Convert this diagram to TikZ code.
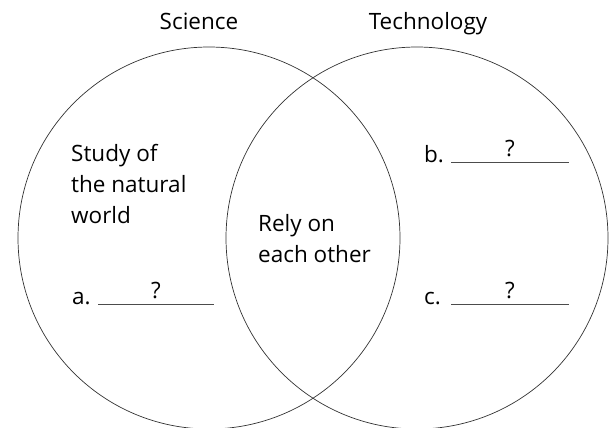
\documentclass[tikz,border=0pt]{standalone}
\usepackage{fontspec}
\setmainfont{Open Sans}

\begin{document}
\begin{tikzpicture}[x=1pt,y=-1pt,
  ring/.style={draw=black!80,line width=0.7pt},
  head/.style={anchor=base,inner sep=0pt,font=\fontsize{22.5}{27}\selectfont},
  words/.style={anchor=base west,inner sep=0pt,align=left,font=\fontsize{22.5}{31}\selectfont},
  blank/.style={draw=black!70,line width=0.7pt},
  qmark/.style={midway,anchor=base,inner sep=0pt,yshift=6pt,font=\fontsize{22.5}{27}\selectfont}]
\useasboundingbox (0,0) rectangle (613,428);
% the two sets
\draw[ring] (209,238) circle (191pt);
\draw[ring] (417,238) circle (191pt);
\node[head] (sci) at (199,30) {Science};
\node[head] (tech) at (428,30) {Technology};
% left part (base is the last line)
\node[words] (study) at (71,223) {Study of\\the natural\\world};
\node[words] (la) at (72,304) {a.};
\coordinate (a1) at (98,304);
\coordinate (a2) at (214,304);
\draw[blank] (a1) -- node[qmark] {?} (a2);
% overlap
\node[words] (rely) at (258,262) {Rely on\\each other};
% right part
\node[words] (lb) at (424,162) {b.};
\coordinate (b1) at (451,162);
\coordinate (b2) at (569,162);
\draw[blank] (b1) -- node[qmark] {?} (b2);
\node[words] (lc) at (424,304) {c.};
\coordinate (c1) at (451,304);
\coordinate (c2) at (569,304);
\draw[blank] (c1) -- node[qmark] {?} (c2);
\end{tikzpicture}
\end{document}
